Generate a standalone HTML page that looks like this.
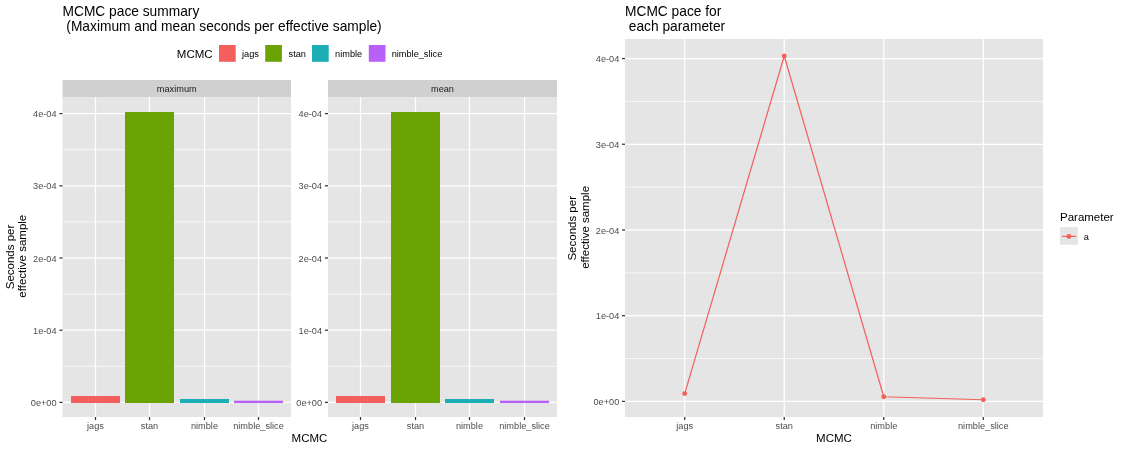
<!DOCTYPE html>
<html lang="en"><head><meta charset="utf-8"><title>MCMC pace</title>
<style>
html,body{margin:0;padding:0;background:#fff}
body{width:1125px;height:450px;overflow:hidden;font-family:"Liberation Sans",sans-serif}
svg{display:block;will-change:transform}
text{font-family:"Liberation Sans",sans-serif;white-space:pre}
.t{font-size:13.75px;fill:#000}
.at{font-size:11.5px;fill:#000}
.ax{font-size:9.2px;fill:#4D4D4D}
.lg{font-size:9.2px;fill:#000}
.st{font-size:9.2px;fill:#1A1A1A}
.gM{stroke:#fff;stroke-width:1.25;fill:none}
.gm{stroke:#fff;stroke-width:0.7;fill:none}
.tk{stroke:#333333;stroke-width:1.25;fill:none}
</style></head><body>
<svg width="1125" height="450" viewBox="0 0 1125 450">
<rect x="0" y="0" width="1125" height="450" fill="#fff"/>
<text class="t" x="62.5" y="16">MCMC pace summary</text>
<text class="t" x="62.5" y="31.4" xml:space="preserve"> (Maximum and mean seconds per effective sample)</text>
<text class="at" x="176.8" y="58">MCMC</text>
<rect x="219" y="45" width="16.7" height="16.8" fill="#F25F5C"/>
<text class="lg" x="242" y="56.5">jags</text>
<rect x="265.2" y="45" width="16.7" height="16.8" fill="#6BA304"/>
<text class="lg" x="288.6" y="56.5">stan</text>
<rect x="312" y="45" width="16.7" height="16.8" fill="#1BAEB4"/>
<text class="lg" x="335.1" y="56.5">nimble</text>
<rect x="368.8" y="45" width="16.7" height="16.8" fill="#B861F8"/>
<text class="lg" x="391.7" y="56.5">nimble_slice</text>
<rect x="62.5" y="80" width="228.5" height="17" fill="#D0D0D0"/>
<text class="st" x="176.75" y="91.6" text-anchor="middle">maximum</text>
<rect x="62.5" y="97.0" width="228.5" height="320.0" fill="#E5E5E5"/>
<path class="gm" d="M62.5 366.30H291.0"/>
<path class="gm" d="M62.5 294.10H291.0"/>
<path class="gm" d="M62.5 221.90H291.0"/>
<path class="gm" d="M62.5 149.70H291.0"/>
<path class="gM" d="M62.5 402.40H291.0"/>
<path class="gM" d="M62.5 330.20H291.0"/>
<path class="gM" d="M62.5 258.00H291.0"/>
<path class="gM" d="M62.5 185.80H291.0"/>
<path class="gM" d="M62.5 113.60H291.0"/>
<path class="gM" d="M95.50 97.0V417.0"/>
<path class="gM" d="M149.50 97.0V417.0"/>
<path class="gM" d="M204.50 97.0V417.0"/>
<path class="gM" d="M258.50 97.0V417.0"/>
<rect x="71" y="396" width="49" height="7" fill="#F25F5C"/>
<path class="tk" d="M95.50 417.0v3.1"/>
<text class="ax" x="95.50" y="429.2" text-anchor="middle">jags</text>
<rect x="125" y="112" width="49" height="291" fill="#6BA304"/>
<path class="tk" d="M149.50 417.0v3.1"/>
<text class="ax" x="149.50" y="429.2" text-anchor="middle">stan</text>
<rect x="180" y="399" width="49" height="4" fill="#1BAEB4"/>
<path class="tk" d="M204.50 417.0v3.1"/>
<text class="ax" x="204.50" y="429.2" text-anchor="middle">nimble</text>
<rect x="234" y="400.7" width="49" height="2.3000000000000114" fill="#B861F8"/>
<path class="tk" d="M258.50 417.0v3.1"/>
<text class="ax" x="258.50" y="429.2" text-anchor="middle">nimble_slice</text>
<path class="tk" d="M59.4 402.40h3.1"/>
<text class="ax" x="56.6" y="406.00" text-anchor="end">0e+00</text>
<path class="tk" d="M59.4 330.20h3.1"/>
<text class="ax" x="56.6" y="333.80" text-anchor="end">1e-04</text>
<path class="tk" d="M59.4 258.00h3.1"/>
<text class="ax" x="56.6" y="261.60" text-anchor="end">2e-04</text>
<path class="tk" d="M59.4 185.80h3.1"/>
<text class="ax" x="56.6" y="189.40" text-anchor="end">3e-04</text>
<path class="tk" d="M59.4 113.60h3.1"/>
<text class="ax" x="56.6" y="117.20" text-anchor="end">4e-04</text>
<rect x="328.0" y="80" width="229.0" height="17" fill="#D0D0D0"/>
<text class="st" x="442.5" y="91.6" text-anchor="middle">mean</text>
<rect x="328.0" y="97.0" width="229.0" height="320.0" fill="#E5E5E5"/>
<path class="gm" d="M328.0 366.30H557.0"/>
<path class="gm" d="M328.0 294.10H557.0"/>
<path class="gm" d="M328.0 221.90H557.0"/>
<path class="gm" d="M328.0 149.70H557.0"/>
<path class="gM" d="M328.0 402.40H557.0"/>
<path class="gM" d="M328.0 330.20H557.0"/>
<path class="gM" d="M328.0 258.00H557.0"/>
<path class="gM" d="M328.0 185.80H557.0"/>
<path class="gM" d="M328.0 113.60H557.0"/>
<path class="gM" d="M360.50 97.0V417.0"/>
<path class="gM" d="M415.50 97.0V417.0"/>
<path class="gM" d="M469.50 97.0V417.0"/>
<path class="gM" d="M524.50 97.0V417.0"/>
<rect x="336" y="396" width="49" height="7" fill="#F25F5C"/>
<path class="tk" d="M360.50 417.0v3.1"/>
<text class="ax" x="360.50" y="429.2" text-anchor="middle">jags</text>
<rect x="391" y="112" width="49" height="291" fill="#6BA304"/>
<path class="tk" d="M415.50 417.0v3.1"/>
<text class="ax" x="415.50" y="429.2" text-anchor="middle">stan</text>
<rect x="445" y="399" width="49" height="4" fill="#1BAEB4"/>
<path class="tk" d="M469.50 417.0v3.1"/>
<text class="ax" x="469.50" y="429.2" text-anchor="middle">nimble</text>
<rect x="500" y="400.7" width="49" height="2.3000000000000114" fill="#B861F8"/>
<path class="tk" d="M524.50 417.0v3.1"/>
<text class="ax" x="524.50" y="429.2" text-anchor="middle">nimble_slice</text>
<path class="tk" d="M324.9 402.40h3.1"/>
<text class="ax" x="322.1" y="406.00" text-anchor="end">0e+00</text>
<path class="tk" d="M324.9 330.20h3.1"/>
<text class="ax" x="322.1" y="333.80" text-anchor="end">1e-04</text>
<path class="tk" d="M324.9 258.00h3.1"/>
<text class="ax" x="322.1" y="261.60" text-anchor="end">2e-04</text>
<path class="tk" d="M324.9 185.80h3.1"/>
<text class="ax" x="322.1" y="189.40" text-anchor="end">3e-04</text>
<path class="tk" d="M324.9 113.60h3.1"/>
<text class="ax" x="322.1" y="117.20" text-anchor="end">4e-04</text>
<text class="at" x="309.5" y="442" text-anchor="middle">MCMC</text>
<text class="at" transform="translate(13.7,257) rotate(-90)" text-anchor="middle">Seconds per</text>
<text class="at" transform="translate(25.7,256.2) rotate(-90)" text-anchor="middle">effective sample</text>
<text class="t" x="625" y="16">MCMC pace for</text>
<text class="t" x="625" y="31.4" xml:space="preserve"> each parameter</text>
<rect x="625.0" y="39.0" width="418.0" height="378.0" fill="#E5E5E5"/>
<path class="gm" d="M625.0 358.54H1043.0"/>
<path class="gm" d="M625.0 272.83H1043.0"/>
<path class="gm" d="M625.0 187.12H1043.0"/>
<path class="gm" d="M625.0 101.42H1043.0"/>
<path class="gM" d="M625.0 401.40H1043.0"/>
<path class="gM" d="M625.0 315.69H1043.0"/>
<path class="gM" d="M625.0 229.98H1043.0"/>
<path class="gM" d="M625.0 144.27H1043.0"/>
<path class="gM" d="M625.0 58.56H1043.0"/>
<path class="gM" d="M684.71 39.0V417.0"/>
<path class="gM" d="M784.24 39.0V417.0"/>
<path class="gM" d="M883.76 39.0V417.0"/>
<path class="gM" d="M983.29 39.0V417.0"/>
<polyline fill="none" stroke="#F25F5C" stroke-width="1.2" stroke-linejoin="round" points="684.71,393.60 784.24,55.99 883.76,396.77 983.29,399.77"/>
<circle cx="684.71" cy="393.60" r="2.45" fill="#F25F5C"/>
<circle cx="784.24" cy="55.99" r="2.45" fill="#F25F5C"/>
<circle cx="883.76" cy="396.77" r="2.45" fill="#F25F5C"/>
<circle cx="983.29" cy="399.77" r="2.45" fill="#F25F5C"/>
<path class="tk" d="M684.71 417.0v3.1"/>
<text class="ax" x="684.71" y="429.2" text-anchor="middle">jags</text>
<path class="tk" d="M784.24 417.0v3.1"/>
<text class="ax" x="784.24" y="429.2" text-anchor="middle">stan</text>
<path class="tk" d="M883.76 417.0v3.1"/>
<text class="ax" x="883.76" y="429.2" text-anchor="middle">nimble</text>
<path class="tk" d="M983.29 417.0v3.1"/>
<text class="ax" x="983.29" y="429.2" text-anchor="middle">nimble_slice</text>
<path class="tk" d="M622.0 401.40h3.0"/>
<text class="ax" x="619.3" y="405.20" text-anchor="end">0e+00</text>
<path class="tk" d="M622.0 315.69h3.0"/>
<text class="ax" x="619.3" y="319.49" text-anchor="end">1e-04</text>
<path class="tk" d="M622.0 229.98h3.0"/>
<text class="ax" x="619.3" y="233.78" text-anchor="end">2e-04</text>
<path class="tk" d="M622.0 144.27h3.0"/>
<text class="ax" x="619.3" y="148.07" text-anchor="end">3e-04</text>
<path class="tk" d="M622.0 58.56h3.0"/>
<text class="ax" x="619.3" y="62.36" text-anchor="end">4e-04</text>
<text class="at" x="834" y="442" text-anchor="middle">MCMC</text>
<text class="at" transform="translate(576.3,228.3) rotate(-90)" text-anchor="middle">Seconds per</text>
<text class="at" transform="translate(588.7,227.4) rotate(-90)" text-anchor="middle">effective sample</text>
<text class="at" x="1060" y="220.8">Parameter</text>
<rect x="1060" y="227.1" width="17.9" height="17.7" fill="#E5E5E5"/>
<path d="M1061.9 236.4H1076.1" stroke="#F25F5C" stroke-width="1.2"/>
<circle cx="1068.9" cy="236.4" r="2.45" fill="#F25F5C"/>
<text class="lg" x="1083.8" y="240.1">a</text>
</svg>
</body></html>
